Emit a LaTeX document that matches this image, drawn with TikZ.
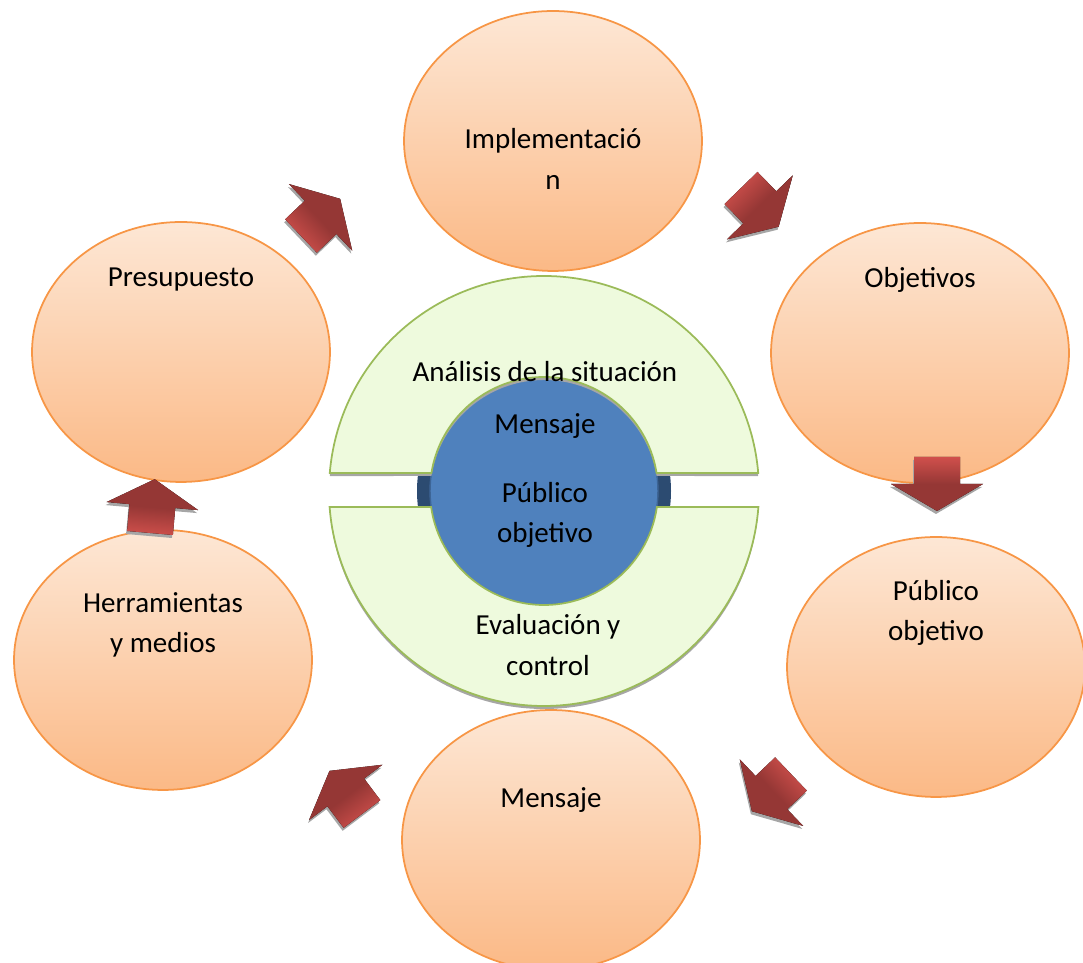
\documentclass[tikz,border=0pt]{standalone}
\usepackage{fontspec}
\setmainfont{Carlito}
\usetikzlibrary{shapes.geometric}

\definecolor{peachtop}{HTML}{FDE7D5}
\definecolor{peachbot}{HTML}{FBB986}
\definecolor{peachline}{HTML}{F79646}
\definecolor{leaf}{HTML}{EEFADD}
\definecolor{leafline}{HTML}{9BBB59}
\definecolor{hubblue}{HTML}{4F81BD}
\definecolor{hubline}{HTML}{3D6596}
\definecolor{hubdark}{HTML}{2C4B71}
\definecolor{arrowdark}{HTML}{953735}
\definecolor{arrowlight}{HTML}{D0504C}
\definecolor{shadowgray}{HTML}{A6A6A6}

\begin{document}
\begin{tikzpicture}[
        x=0.02cm, y=0.02cm,
        stage/.style={ellipse, draw=peachline, line width=1pt, top color=peachtop, bottom color=peachbot, minimum width=5.96cm, minimum height=5.2cm, inner sep=0pt},
        txt/.style={font=\fontsize{16.5}{23}\selectfont, align=center, inner sep=0pt},
        ring/.style={fill=leaf, draw=leafline, line width=1pt, preaction={fill=shadowgray, transform canvas={yshift=-0.06cm}}},
        hubcore/.style={circle, fill=hubblue, draw=hubline, line width=0.8pt, minimum size=4.56cm, inner sep=0pt},
        blockarrow/.pic={
            \fill[shadowgray, shift={(-1,-3)}, rotate=#1] (0,-23) -- (27,-23) -- (27,-46) -- (54,0) -- (27,46) -- (27,23) -- (0,23) -- cycle;
            \fill[bottom color=arrowlight, top color=arrowdark, middle color=arrowdark, shading angle=#1-90, rotate=#1] (0,-23) -- (27,-23) -- (27,-46) -- (54,0) -- (27,46) -- (27,23) -- (0,23) -- cycle;
        }
    ]
        \useasboundingbox (0,0) rectangle (1083,963);

        \node[stage] (implem) at (553,822) {};
        \node[stage] (objet) at (920,610) {};
        \node[stage] (publico) at (936,296) {};
        \node[stage] (mensaje) at (551,123) {};
        \node[stage] (herram) at (163,303) {};
        \node[stage] (presup) at (181,611) {};

        \coordinate (hub) at (544,472);
        \fill[hubdark] (hub) circle[radius=127];
        \node[hubcore] (hubcircle) at (hub) {};
        \draw[ring] (hub) ++(175.2:215) arc[start angle=175.2, end angle=4.8, radius=215] -- ([shift={(hub)}]9.08:114) arc[start angle=9.08, end angle=170.92, radius=114] -- cycle;
        \draw[ring] (hub) ++(184.27:215) arc[start angle=184.27, end angle=355.73, radius=215] -- ([shift={(hub)}]351.93:114) arc[start angle=351.93, end angle=188.07, radius=114] -- cycle;

        \node[txt] (implemtxt) at (553,804) {Implementació\\n};
        \node[txt] (objettxt) at (920,683) {Objetivos};
        \node[txt] (publicotxt) at (936,350) {Público\\objetivo};
        \node[txt] (mensajetxt) at (551,163) {Mensaje};
        \node[txt] (herramtxt) at (163,338) {Herramientas\\y medios};
        \node[txt] (presuptxt) at (181,683) {Presupuesto};
        \node[txt] (analisis) at (545,591) {Análisis de la situación};
        \node[txt] (hubmensaje) at (545,537) {Mensaje};
        \node[txt] (hubpublico) at (545,448) {Público\\objetivo};
        \node[txt] (evaluacion) at (548,318) {Evaluación y\\control};

        \pic (arrow1) at (301,727) {blockarrow=43.5};
        \pic (arrow2) at (741,775) {blockarrow=-45.8};
        \pic (arrow3) at (937,506) {blockarrow=-90};
        \pic (arrow4) at (791,189) {blockarrow=223.6};
        \pic (arrow5) at (362,149) {blockarrow=127};
        \pic (arrow6) at (150,430) {blockarrow=85};
    \end{tikzpicture}
\end{document}
